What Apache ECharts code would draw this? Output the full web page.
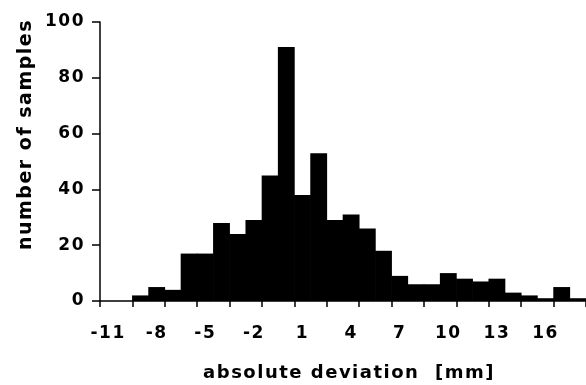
<!DOCTYPE html>
<html>
<head>
<meta charset="utf-8">
<script src="https://cdn.jsdelivr.net/npm/echarts@6/dist/echarts.min.js"></script>
<style>
  html, body { margin: 0; padding: 0; background: #fff; }
  #chart { width: 586px; height: 385px; }
</style>
</head>
<body>
<div id="chart"></div>
<script>
// bins of 1 mm, from -11 to 18
const deviations = [
  -11, -10, -9, -8, -7, -6, -5, -4, -3, -2, -1, 0, 1, 2, 3,
  4, 5, 6, 7, 8, 9, 10, 11, 12, 13, 14, 15, 16, 17, 18,
];
const sampleCounts = [
  0, 0, 2, 5, 4, 17, 17, 28, 24, 29, 45, 91, 38, 53, 29,
  31, 26, 18, 9, 6, 6, 10, 8, 7, 8, 3, 2, 1, 5, 1,
];
const yTicks = [0, 20, 40, 60, 80, 100];

const FONT = "DejaVu Sans";
const INK = "#000";

const chart = echarts.init(document.getElementById("chart"));

const option = {
  animation: false,
  backgroundColor: "#fff",
  grid: {
    left: 100,
    right: 0,
    top: 22,
    bottom: 84,
    containLabel: false,
    outerBoundsMode: "none",
  },
  xAxis: {
    type: "category",
    data: deviations.map(String),
    boundaryGap: true,
    name: "absolute deviation  [mm]",
    nameLocation: "middle",
    nameGap: 63,
    nameTextStyle: {
      fontFamily: FONT,
      fontWeight: "bold",
      fontSize: 18,
      color: INK,
      padding: [0, 0, 0, 12],
    },
    axisLine: { show: true, lineStyle: { color: INK, width: 1.5 } },
    axisTick: {
      show: true,
      interval: 1,
      length: 6,
      lineStyle: { color: INK, width: 1.5 },
    },
    axisLabel: {
      interval: 2,
      margin: 24,
      fontFamily: FONT,
      fontWeight: "bold",
      fontSize: 17,
      color: INK,
    },
    splitLine: { show: false },
  },
  yAxis: {
    type: "value",
    min: yTicks[0],
    max: yTicks[yTicks.length - 1],
    interval: yTicks[1] - yTicks[0],
    name: "number of samples",
    nameLocation: "middle",
    nameGap: 64,
    nameTextStyle: {
      fontFamily: FONT,
      fontWeight: "bold",
      fontSize: 19,
      color: INK,
      padding: [0, 0, 0, 54],
    },
    axisLine: { show: true, lineStyle: { color: INK, width: 1.5 } },
    axisTick: {
      show: true,
      length: 8,
      lineStyle: { color: INK, width: 1.5 },
    },
    axisLabel: {
      margin: 15,
      fontFamily: FONT,
      fontWeight: "bold",
      fontSize: 17,
      color: INK,
    },
    splitLine: { show: false },
  },
  series: [
    {
      type: "bar",
      data: sampleCounts,
      // a touch wider than the band so neighbouring bars close up without seams
      barWidth: "104%",
      itemStyle: { color: INK },
      emphasis: { disabled: true },
    },
  ],
};

chart.setOption(option);

// the source figure's lettering is widely tracked; canvas exists only after first render
const canvas = chart.getDom().querySelector("canvas");
if (canvas) {
  canvas.getContext("2d").letterSpacing = "1.5px";
  chart.setOption(option, true);
}
</script>
</body>
</html>
